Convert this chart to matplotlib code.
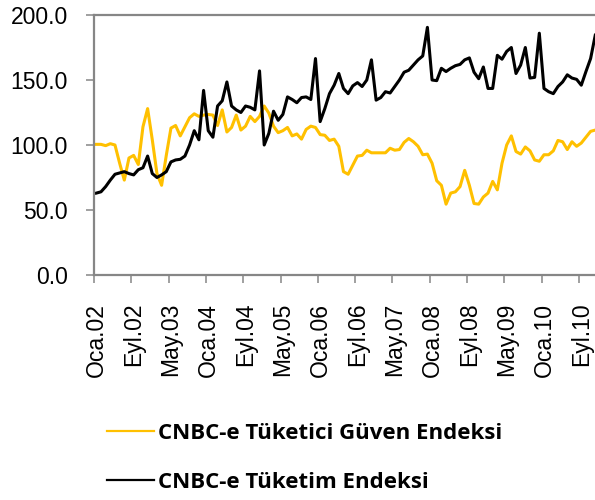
import matplotlib
matplotlib.use("Agg")
import matplotlib.pyplot as plt
from matplotlib.ticker import FixedLocator, FuncFormatter, NullFormatter

# Aylık seriler: Ocak 2002 - Aralık 2010
ay_adlari = ['Oca', 'Şub', 'Mar', 'Nis', 'May', 'Haz', 'Tem', 'Ağu', 'Eyl', 'Eki', 'Kas', 'Ara']
yillar = list(range(2002, 2011))
aylar = [f"{a}.{str(y)[2:]}" for y in yillar for a in ay_adlari]

guven = [
    100.5, 100.5, 99.5, 101, 100, 86, 73, 90, 92, 85, 114, 128,
    104, 78, 69, 92, 113, 115, 107, 114, 121, 124, 122, 123,
    123.5, 123, 115, 127, 110, 113.5, 123, 111.5, 114.5, 122, 118, 122,
    130, 124.5, 114.5, 109.5, 111, 113.5, 107, 108.5, 104.5, 112, 114.5, 113.5,
    108, 107.5, 103.5, 104.5, 99, 79.5, 77.5, 84.5, 91.5, 92, 96, 94,
    94, 94, 94, 97.5, 96, 96.5, 102, 105, 102.5, 99, 92.5, 93,
    86, 72.5, 69, 54.5, 63, 64, 68, 80.5, 69, 55, 54.5, 60,
    63, 72, 65.5, 86, 100, 107, 95, 93, 98.5, 95.5, 88.5, 87.5,
    92.5, 92.5, 95.5, 103.5, 102.5, 96.5, 102.5, 99, 101.5, 106, 110.5, 111.5,
]

tuketim = [
    63, 64, 68, 73, 77.5, 78.5, 79.5, 78, 77, 81, 82.5, 91.5,
    78, 75, 77, 79.5, 87, 88.5, 89, 91.5, 100, 111, 104, 142,
    111, 106, 130, 134, 148.5, 130, 127, 125, 130, 129, 127, 157,
    100, 109, 126, 119, 123.5, 137, 135, 132.5, 136.5, 137, 135, 166.5,
    118, 128, 139.5, 146, 155, 143.5, 139.5, 145.5, 148, 145, 150, 165.5,
    134.5, 136.5, 141, 140, 145, 150, 156, 157.5, 161.5, 165.5, 168.5, 190.5,
    150, 149.5, 159, 156.5, 159, 161, 162, 165.5, 167, 156, 151, 160,
    143.5, 143.5, 169, 166, 172, 175, 155, 161.5, 175, 151.5, 152, 186,
    143.5, 141, 139.5, 145, 148.5, 154, 151.5, 150.5, 146, 156.5, 166.5, 184.5,
]

etiket_adimi = 8
y_ticks = [0, 50, 100, 150, 200]

gri = '#868686'
sari = '#FFC000'

plt.rcParams['font.family'] = ['Liberation Sans', 'DejaVu Sans']

fig = plt.figure(figsize=(5.95, 5.0), dpi=100)
ax = fig.add_axes([94 / 595, 225 / 500, 503.6 / 595, 260 / 500])

x = [i + 0.5 for i in range(len(aylar))]
l1, = ax.plot(x, guven, color=sari, lw=2.2, solid_joinstyle='round')
l2, = ax.plot(x, tuketim, color='black', lw=2.2, solid_joinstyle='round')

ax.set_xlim(0, len(aylar))
ax.set_ylim(0, 200)

# y ekseni
ax.set_yticks(y_ticks)
ax.yaxis.set_major_formatter(FuncFormatter(lambda v, p: f"{v:.1f}"))
ax.tick_params(axis='y', direction='out', length=5.8, width=1.1, color=gri,
               pad=13, labelsize=16.5)

# x ekseni: çizgiler kategori sınırlarında, etiketler kategori ortasında
sinirlar = list(range(0, len(aylar), etiket_adimi))
ax.xaxis.set_major_locator(FixedLocator(sinirlar))
ax.xaxis.set_major_formatter(NullFormatter())
ax.xaxis.set_minor_locator(FixedLocator([s + 0.5 for s in sinirlar]))
ax.set_xticklabels([aylar[s] for s in sinirlar], minor=True, rotation=90)
ax.tick_params(axis='x', which='major', direction='out', length=5.8, width=1.1, color=gri)
ax.tick_params(axis='x', which='minor', length=0, pad=20, labelsize=16.5)

for k in ['left', 'bottom', 'top']:
    ax.spines[k].set_color(gri)
    ax.spines[k].set_linewidth(1.6)
ax.spines['right'].set_visible(False)

leg = fig.legend([l1, l2], ['CNBC-e Tüketici Güven Endeksi', 'CNBC-e Tüketim Endeksi'],
                 loc='upper left', bbox_to_anchor=(107 / 595, 1 - 423 / 500),
                 frameon=False, handlelength=2.1, handletextpad=0.2,
                 labelspacing=1.25, borderpad=0, borderaxespad=0,
                 prop={'family': 'Open Sans', 'weight': 'bold', 'size': 16})
for h in leg.get_lines():
    h.set_linewidth(1.6)

fig.savefig('out.png', dpi=100)
